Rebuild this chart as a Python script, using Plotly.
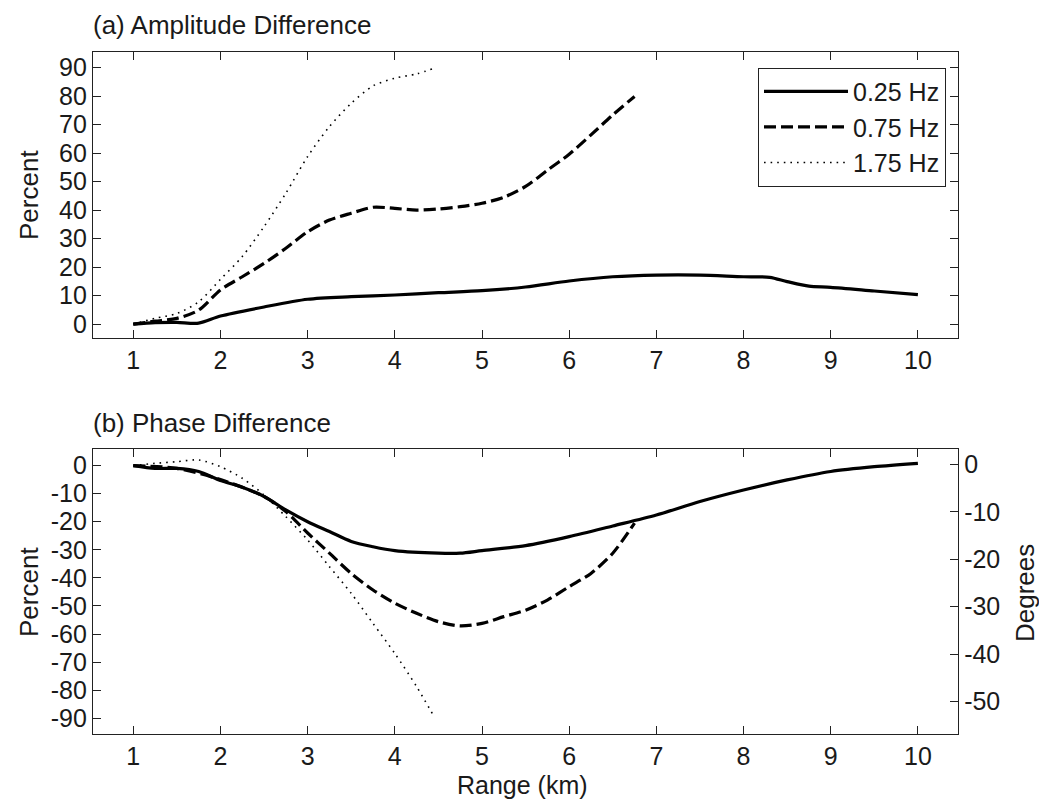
import plotly.graph_objects as go

# ---------------- data ----------------
amp025_x = [1, 1.25, 1.5, 1.75, 2, 2.5, 3, 3.5, 4, 4.5, 5, 5.5, 6, 6.5, 7, 7.5, 8, 8.3, 8.5, 8.75, 9, 9.5, 10]
amp025_y = [0, 0.5, 0.6, 0.3, 2.8, 6, 8.7, 9.6, 10.2, 11, 11.7, 13, 15.1, 16.6, 17.2, 17.2, 16.6, 16.4, 14.9, 13.3, 12.9, 11.6, 10.3]

amp075_x = [1, 1.25, 1.5, 1.75, 2, 2.25, 2.5, 2.75, 3, 3.25, 3.5, 3.75, 4, 4.25, 4.5, 4.75, 5, 5.25, 5.5, 5.75, 6, 6.25, 6.5, 6.75]
amp075_y = [0, 1, 2, 4.9, 12, 16.6, 21.3, 26.6, 32.4, 36.5, 38.9, 41, 40.6, 40, 40.4, 41.2, 42.4, 44.5, 48.3, 54, 59.6, 66.4, 73.4, 79.9]

amp175_x = [1, 1.25, 1.5, 1.75, 2, 2.25, 2.5, 2.75, 3, 3.25, 3.5, 3.75, 4, 4.25, 4.45]
amp175_y = [0, 2, 3.7, 7.8, 15.7, 23.7, 34.2, 45.9, 58.8, 69.3, 77.5, 83.6, 86.3, 87.8, 89.8]

ph025_x = [1, 1.25, 1.5, 1.75, 2, 2.25, 2.5, 2.75, 3, 3.25, 3.5, 3.75, 4, 4.5, 4.75, 5, 5.5, 6, 6.5, 7, 7.5, 8, 8.5, 9, 9.5, 10]
ph025_y = [0, -1, -1, -2.1, -5.3, -7.7, -11, -15.8, -20, -23.5, -27, -28.9, -30.3, -31.2, -31.2, -30.3, -28.5, -25.3, -21.5, -17.6, -12.8, -8.7, -5.1, -2.1, -0.4, 0.8]

ph075_x = [1, 1.5, 2, 2.5, 2.75, 3, 3.25, 3.5, 3.75, 4, 4.25, 4.5, 4.75, 5, 5.25, 5.5, 5.75, 6, 6.25, 6.5, 6.75]
ph075_y = [0, -1, -5, -11, -16.4, -24, -31.2, -38.4, -44.3, -49, -52.6, -55.6, -57.1, -56.2, -53.8, -51.5, -47.9, -43.1, -38.4, -31.2, -20.5]

ph175_x = [1, 1.25, 1.5, 1.75, 2, 2.25, 2.5, 2.75, 3, 3.25, 3.5, 3.75, 4, 4.25, 4.45]
ph175_y = [0, 0.8, 1.4, 2, -0.4, -4.5, -10.5, -18.2, -26.5, -36, -45.5, -56.2, -66.9, -78.7, -89.4]

series_names = ["0.25 Hz", "0.75 Hz", "1.75 Hz"]
x_ticks = [1, 2, 3, 4, 5, 6, 7, 8, 9, 10]
amp_ticks = [0, 10, 20, 30, 40, 50, 60, 70, 80, 90]
ph_ticks = [0, -10, -20, -30, -40, -50, -60, -70, -80, -90]
deg_ticks = [0, -10, -20, -30, -40, -50]

# ---------------- figure ----------------
W, H = 1039, 803
FONT = "Liberation Sans"
TXT_C = "#1a1a1a"
styles = [
    dict(color="black", width=3.2, dash="solid"),
    dict(color="black", width=3.2, dash="12px,5px"),
    dict(color="black", width=1.6, dash="1.6px,5px"),
]

fig = go.Figure()
amp = [(amp025_x, amp025_y), (amp075_x, amp075_y), (amp175_x, amp175_y)]
ph = [(ph025_x, ph025_y), (ph075_x, ph075_y), (ph175_x, ph175_y)]
for i, (xx, yy) in enumerate(amp):
    fig.add_trace(go.Scatter(x=xx, y=yy, mode="lines", name=series_names[i],
                             line=dict(shape="spline", smoothing=0.8, **styles[i]),
                             xaxis="x", yaxis="y", legendgroup=f"g{i}"))
for i, (xx, yy) in enumerate(ph):
    fig.add_trace(go.Scatter(x=xx, y=yy, mode="lines", name=series_names[i],
                             line=dict(shape="spline", smoothing=0.8, **styles[i]),
                             xaxis="x2", yaxis="y2", showlegend=False, legendgroup=f"g{i}"))
# empty trace so the right-hand degree axis is drawn
fig.add_trace(go.Scatter(x=[], y=[], xaxis="x2", yaxis="y3", showlegend=False))

xdom = [93 / W, 958 / W]
top_dom = [1 - 338 / H, 1 - 52 / H]
bot_dom = [1 - 734.3 / H, 1 - 449.3 / H]

LINE_C = "#222222"
axis_common = dict(showline=True, linecolor=LINE_C, linewidth=1.3, ticks="inside",
                   ticklen=8, tickwidth=1, tickcolor=LINE_C, showgrid=False,
                   zeroline=False, tickfont=dict(family=FONT, size=25, color=TXT_C))


def lab(v):
    return [str(t) for t in v]


xr = [0.538, 10.46]
fig.update_layout(
    width=W, height=H, margin=dict(l=0, r=0, t=0, b=0),
    paper_bgcolor="white", plot_bgcolor="white",
    font=dict(family=FONT, color=TXT_C),
    xaxis=dict(domain=xdom, anchor="y", range=xr, tickvals=x_ticks, ticktext=lab(x_ticks),
               mirror="ticks", ticklabelstandoff=0, **axis_common),
    yaxis=dict(domain=top_dom, anchor="x", range=[-4.9, 95.5], tickvals=amp_ticks, ticktext=lab(amp_ticks),
               mirror="ticks", **axis_common),
    xaxis2=dict(domain=xdom, anchor="y2", range=xr, tickvals=x_ticks, ticktext=lab(x_ticks),
                mirror="ticks", ticklabelstandoff=0, **axis_common),
    yaxis2=dict(domain=bot_dom, anchor="x2", range=[-95.7, 5.8], tickvals=ph_ticks, ticktext=lab(ph_ticks),
                mirror=True, **axis_common),
    yaxis3=dict(overlaying="y2", side="right", anchor="x2", range=[-56.9, 3.2], tickvals=deg_ticks,
                ticktext=lab(deg_ticks), **axis_common),
    legend=dict(x=946 / W, xanchor="right", y=1 - 67.7 / H, yanchor="top",
                bgcolor="white", bordercolor=LINE_C, borderwidth=1,
                font=dict(family=FONT, size=25, color=TXT_C),
                tracegroupgap=0, itemwidth=84),
    showlegend=True,
)

ann_font = dict(family=FONT, size=26, color=TXT_C)
fig.add_annotation(text="(a) Amplitude Difference", xref="paper", yref="paper",
                   x=91 / W, y=1 - 25 / H, xanchor="left", yanchor="middle", showarrow=False, font=ann_font)
fig.add_annotation(text="(b) Phase Difference", xref="paper", yref="paper",
                   x=91 / W, y=1 - 422.5 / H, xanchor="left", yanchor="middle", showarrow=False, font=ann_font)
fig.add_annotation(text="Percent", xref="paper", yref="paper", textangle=-90,
                   x=29 / W, y=1 - 195 / H, xanchor="center", yanchor="middle", showarrow=False, font=ann_font)
fig.add_annotation(text="Percent", xref="paper", yref="paper", textangle=-90,
                   x=29 / W, y=1 - 592 / H, xanchor="center", yanchor="middle", showarrow=False, font=ann_font)
fig.add_annotation(text="Degrees", xref="paper", yref="paper", textangle=-90,
                   x=1025 / W, y=1 - 593 / H, xanchor="center", yanchor="middle", showarrow=False, font=ann_font)
fig.add_annotation(text="Range (km)", xref="paper", yref="paper",
                   x=522 / W, y=1 - 785 / H, xanchor="center", yanchor="middle", showarrow=False,
                   font=dict(family=FONT, size=25, color=TXT_C))

fig.write_html("out.html")
